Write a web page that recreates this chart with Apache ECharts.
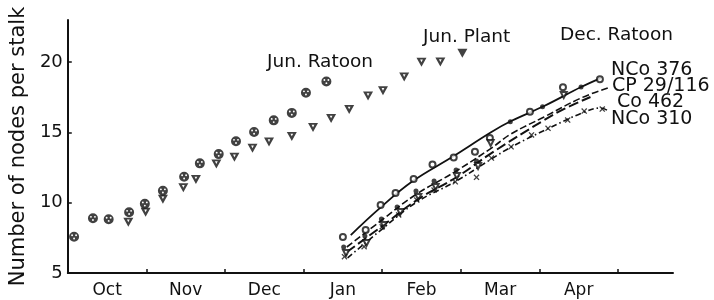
<!DOCTYPE html>
<html><head><meta charset="utf-8">
<script src="https://cdn.jsdelivr.net/npm/echarts@6/dist/echarts.min.js"></script>
<style>html,body{margin:0;padding:0;background:#fff}#c{width:714px;height:300px}</style>
</head><body><div id="c"></div>
<script>
// x = months since 1 October
const monthLabels = ['Oct','Nov','Dec','Jan','Feb','Mar','Apr'];
const monthLabelPos = [0.5,1.5,2.5,3.5,4.5,5.5,6.5];
const monthTickPos = [1,2,3,4,5,6,7];
const yTicks = [5,10,15,20];

const junRatoon = [[0.08,7.58],[0.32,8.89],[0.52,8.83],[0.78,9.32],[0.98,9.92],[1.21,10.85],[1.48,11.85],[1.68,12.80],[1.92,13.46],[2.14,14.37],[2.37,15.03],[2.62,15.86],[2.85,16.39],[3.03,17.82],[3.29,18.63]];
const junPlant = [[0.77,8.61],[0.99,9.32],[1.21,10.25],[1.47,11.06],[1.63,11.66],[1.89,12.75],[2.12,13.23],[2.35,13.87],[2.56,14.32],[2.85,14.72],[3.12,15.35],[3.35,16.00],[3.58,16.64],[3.82,17.59],[4.01,17.96],[4.28,18.94],[4.50,19.99],[4.74,20.01]];
const junPlantLast = [[5.02,20.63]];

const nco376Fit = [[3.60,7.70],[3.97,9.62],[4.39,11.54],[4.89,13.25],[5.39,15.03],[5.64,15.81],[6.06,16.88],[6.53,18.23],[6.78,18.87]];
const cp29Fit = [[3.55,6.85],[3.98,8.70],[4.42,10.55],[4.92,12.18],[5.39,13.89],[5.64,14.90],[6.06,16.10],[6.53,17.45],[6.87,18.16]];
const co462Fit = [[3.55,6.49],[4.00,8.34],[4.46,10.26],[4.95,11.83],[5.39,13.53],[6.06,15.88],[6.31,16.66],[6.65,17.52]];
const nco310Fit = [[3.56,6.07],[4.00,8.13],[4.44,10.05],[4.92,11.47],[5.39,13.11],[5.64,13.96],[6.10,15.24],[6.57,16.45],[6.78,16.74],[6.88,16.52]];

const nco376Obs = [[3.50,7.56],[3.79,8.06],[3.98,9.84],[4.17,10.69],[4.40,11.69],[4.64,12.72],[4.91,13.21],[5.18,13.63],[5.37,14.60],[5.88,16.47],[6.30,18.21],[6.77,18.78]];
const cp29Obs = [[3.51,6.85],[3.78,7.63],[3.99,8.84],[4.19,9.69],[4.43,10.83],[4.66,11.54],[4.94,12.33],[5.20,12.97],[5.63,15.76],[6.04,16.83],[6.53,18.23]];
const co462Obs = [[3.54,6.42],[3.80,7.13],[4.02,8.41],[4.23,9.34],[4.46,10.41],[4.68,11.12],[4.95,11.90],[5.22,12.61],[5.38,14.25],[6.31,17.66]];
const nco310Obs = [[3.52,6.16],[3.77,6.87],[4.00,8.29],[4.21,9.13],[4.44,10.19],[4.66,10.90],[4.93,11.49],[5.20,11.81],[5.39,13.18],[5.64,13.98],[5.90,14.82],[6.11,15.29],[6.36,15.88],[6.57,16.52],[6.80,16.66]];

const INK = '#111';
const FONT = 'DejaVu Sans';
const circleHoles = 'path://M10,0 A10,10 0 1 1 10,20 A10,10 0 1 1 10,0 Z M6,5.2 A1.9,1.9 0 1 0 6,9 A1.9,1.9 0 1 0 6,5.2 Z M14,5.2 A1.9,1.9 0 1 0 14,9 A1.9,1.9 0 1 0 14,5.2 Z M10,11.6 A1.9,1.9 0 1 0 10,15.4 A1.9,1.9 0 1 0 10,11.6 Z';
const triHole = 'path://M0,0 L20,0 L10,18 Z M7.3,3.5 L10,8.8 L12.7,3.5 Z';
const triSolid = 'path://M0,0 L20,0 L10,18 Z';
const xMark = 'path://M1.5,0 L5,3.5 L8.5,0 L10,1.5 L6.5,5 L10,8.5 L8.5,10 L5,6.5 L1.5,10 L0,8.5 L3.5,5 L0,1.5 Z';

function fitLine(name, data, type, width){
  return {name, type:'line', data, smooth:0.4, showSymbol:false, silent:true,
    lineStyle:{color:INK, width, type}, z:2};
}
function marks(name, data, symbol, size, extra){
  return Object.assign({name, type:'scatter', data, symbol, symbolSize:size, silent:true,
    itemStyle:{color:INK}, z:3}, extra||{});
}

const chart = echarts.init(document.getElementById('c'), null, {renderer:'canvas'});
chart.setOption({
  backgroundColor:'#fff',
  animation:false,
  grid:{left:63, right:41, top:20, bottom:27},
  xAxis:{type:'value', min:0, max:7.7, interval:0.5,
    axisLine:{show:true, lineStyle:{color:INK, width:2}},
    axisTick:{show:true, inside:true, length:4, customValues:monthTickPos, lineStyle:{color:INK, width:1.5}},
    axisLabel:{show:true, customValues:monthLabelPos, margin:9, color:INK, fontFamily:FONT, fontSize:17,
      formatter:v => monthLabels[Math.floor(v)] || ''},
    splitLine:{show:false}},
  yAxis:{type:'value', min:5, max:23, interval:5,
    name:'Number of nodes per stalk', nameLocation:'middle', nameGap:30,
    nameTextStyle:{color:INK, fontFamily:FONT, fontSize:21},
    axisLine:{show:true, lineStyle:{color:INK, width:2}},
    axisTick:{show:true, inside:true, length:4, customValues:yTicks, lineStyle:{color:INK, width:1.5}},
    axisLabel:{customValues:yTicks, margin:5, color:INK, fontFamily:FONT, fontSize:18},
    splitLine:{show:false}},
  graphic:[
    {type:'text', style:{text:'Jun. Ratoon', x:267, y:62, fill:INK, font:'18.5px "DejaVu Sans"', textVerticalAlign:'middle'}},
    {type:'text', style:{text:'Jun. Plant', x:423, y:37, fill:INK, font:'18.5px "DejaVu Sans"', textVerticalAlign:'middle'}},
    {type:'text', style:{text:'Dec. Ratoon', x:560, y:35.5, fill:INK, font:'18.5px "DejaVu Sans"', textVerticalAlign:'middle'}},
    {type:'text', style:{text:'NCo 376', x:611, y:70, fill:INK, font:'19px "DejaVu Sans"', textVerticalAlign:'middle'}},
    {type:'text', style:{text:'CP 29/116', x:612, y:86, fill:INK, font:'19px "DejaVu Sans"', textVerticalAlign:'middle'}},
    {type:'text', style:{text:'Co 462', x:617, y:102, fill:INK, font:'19px "DejaVu Sans"', textVerticalAlign:'middle'}},
    {type:'text', style:{text:'NCo 310', x:611, y:119, fill:INK, font:'19px "DejaVu Sans"', textVerticalAlign:'middle'}}
  ],
  series:[
    marks('Jun. Plant', junPlant, triHole, [10,9]),
    marks('Jun. Plant end', junPlantLast, triSolid, [10,9]),
    marks('Jun. Ratoon', junRatoon, circleHoles, 10),
    fitLine('NCo 376', nco376Fit, 'solid', 1.8),
    fitLine('CP 29/116', cp29Fit, [7,3], 1.6),
    fitLine('Co 462', co462Fit, [10,4], 2),
    fitLine('NCo 310', nco310Fit, [6,3,1.5,3], 1.6),
    marks('NCo 376 obs', nco376Obs, 'emptyCircle', 6, {itemStyle:{color:INK, borderColor:INK, borderWidth:1.5}}),
    marks('CP 29/116 obs', cp29Obs, 'circle', 5),
    marks('Co 462 obs', co462Obs, 'emptyTriangle', 6, {symbolRotate:180, itemStyle:{color:INK, borderColor:INK, borderWidth:1.5}}),
    marks('NCo 310 obs', nco310Obs, xMark, 6)
  ]
});
</script></body></html>
